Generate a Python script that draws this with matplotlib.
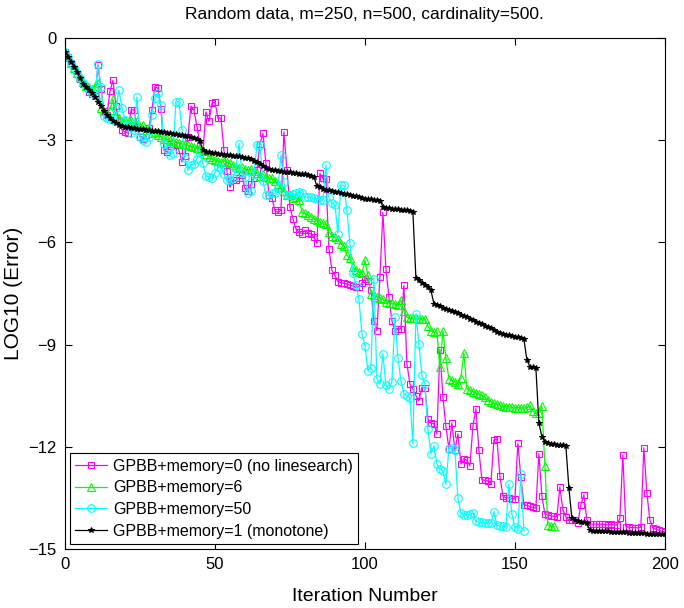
import matplotlib
matplotlib.use('Agg')
from matplotlib import pyplot as plt
import numpy as np

plt.rcParams['font.family'] = ['Liberation Sans', 'DejaVu Sans']

# log10 error per iteration
mem0 = [-0.40, -0.55, -0.72, -0.90, -1.05, -1.20, -1.35, -1.45, -1.58, -1.65,
        -1.70, -0.80, -1.50, -2.15, -2.25, -1.56, -1.24, -2.00, -2.45, -2.70,
        -2.76, -2.78, -2.12, -2.10, -2.60, -2.90, -2.95, -2.85, -2.65, -2.10,
        -1.43, -1.47, -2.07, -3.30, -3.35, -3.10, -3.10, -3.15, -3.30, -3.64,
        -3.45, -2.90, -2.00, -2.12, -2.60, -3.14, -3.35, -2.17, -2.45, -1.92,
        -1.88, -2.35, -2.35, -3.30, -3.90, -4.38, -4.18, -4.18, -4.10, -4.03,
        -4.41, -4.50, -4.30, -4.10, -3.88, -3.10, -2.80, -3.68, -4.60, -4.70,
        -5.06, -5.12, -5.06, -2.76, -3.88, -4.97, -5.30, -5.60, -5.70, -5.74,
        -5.65, -5.72, -5.75, -5.85, -6.03, -3.97, -4.12, -4.15, -6.18, -6.82,
        -6.97, -7.15, -7.18, -7.20, -7.22, -7.26, -7.28, -7.32, -7.30, -7.20,
        -7.06, -7.12, -7.41, -8.30, -8.59, -7.03, -5.12, -6.77, -7.60, -8.30,
        -8.60, -8.55, -8.53, -7.26, -9.56, -10.15, -10.30, -10.50, -10.65, -10.26,
        -10.26, -11.18, -11.30, -11.32, -11.62, -9.15, -10.53, -11.40, -12.06, -11.30,
        -12.10, -11.62, -12.50, -12.35, -12.40, -12.56, -11.40, -10.88, -12.10, -12.97,
        -12.98, -13.00, -13.09, -11.80, -11.77, -12.85, -13.44, -13.50, -13.50, -13.52,
        -13.53, -11.90, -12.90, -13.70, -13.72, -13.75, -13.78, -13.80, -12.20, -13.44,
        -13.97, -14.00, -14.02, -14.04, -14.06, -13.18, -13.85, -14.06, -14.15, -14.15,
        -14.16, -14.24, -13.70, -13.41, -14.15, -14.26, -14.27, -14.26, -14.28, -14.27,
        -14.28, -14.29, -14.28, -14.29, -14.30, -14.10, -12.24, -14.35, -14.36, -14.37,
        -14.37, -14.38, -14.36, -12.03, -13.35, -14.15, -14.38, -14.42, -14.45, -14.48,
        -14.50]

mem6 = [-0.40, -0.55, -0.72, -0.88, -1.02, -1.15, -1.30, -1.40, -1.45, -1.50,
        -1.40, -1.32, -2.06, -2.15, -2.20, -2.10, -1.80, -2.25, -2.35, -2.45,
        -2.40, -2.50, -2.40, -2.55, -2.45, -2.60, -2.55, -2.70, -2.65, -2.80,
        -2.75, -2.85, -2.90, -2.95, -2.97, -3.00, -3.02, -3.05, -3.08, -3.10,
        -3.12, -3.15, -3.18, -3.20, -3.22, -3.25, -3.30, -3.40, -3.48, -3.55,
        -3.58, -3.60, -3.63, -3.60, -3.65, -3.68, -3.72, -3.78, -3.82, -3.80,
        -3.85, -3.88, -3.84, -3.90, -3.95, -4.05, -4.00, -4.08, -4.12, -4.10,
        -4.20, -4.30, -4.38, -4.50, -4.60, -4.62, -4.70, -4.68, -4.75, -5.10,
        -5.15, -5.20, -5.25, -5.30, -5.35, -5.40, -5.42, -5.45, -5.70, -5.80,
        -5.85, -5.90, -6.05, -6.10, -6.38, -6.45, -6.73, -6.80, -6.88, -6.90,
        -6.53, -6.97, -7.50, -7.55, -7.60, -7.62, -7.65, -7.75, -7.77, -7.78,
        -7.80, -7.85, -7.70, -8.00, -8.20, -8.22, -8.22, -8.23, -8.24, -8.24,
        -8.24, -8.45, -8.60, -8.62, -8.60, -9.67, -8.60, -9.40, -10.00, -10.05,
        -10.10, -10.15, -9.97, -9.24, -10.30, -10.32, -10.38, -10.42, -10.44, -10.48,
        -10.55, -10.62, -10.68, -10.72, -10.75, -10.78, -10.80, -10.82, -10.83, -10.84,
        -10.85, -10.85, -10.86, -10.86, -10.84, -10.78, -10.95, -11.02, -11.00, -10.80,
        -12.56, -14.30, -14.33, -14.33]

mem50 = [-0.40, -0.55, -0.72, -0.88, -1.03, -1.18, -1.32, -1.42, -1.50, -1.60,
         -1.68, -0.77, -1.43, -2.30, -2.35, -2.38, -2.40, -2.05, -1.53, -2.05,
         -2.40, -2.55, -2.80, -2.70, -1.73, -2.90, -3.00, -3.05, -2.90, -2.26,
         -1.77, -1.62, -1.97, -3.10, -3.25, -3.44, -3.38, -1.87, -1.87, -2.70,
         -3.53, -3.88, -3.73, -3.70, -3.55, -3.38, -3.68, -4.05, -4.08, -4.12,
         -3.95, -3.80, -3.82, -4.00, -4.18, -4.18, -4.10, -3.82, -3.10, -3.97,
         -4.08, -4.56, -4.50, -4.00, -3.14, -3.14, -4.20, -4.62, -4.62, -4.56,
         -4.56, -4.40, -3.44, -4.24, -4.62, -4.60, -4.58, -4.56, -4.53, -4.55,
         -4.68, -4.68, -4.68, -4.70, -4.72, -4.76, -4.76, -3.73, -4.68, -4.85,
         -4.90, -5.74, -4.32, -4.32, -5.06, -6.03, -6.90, -7.26, -7.65, -8.68,
         -9.03, -9.76, -9.70, -7.06, -10.00, -10.15, -9.27, -10.20, -10.30, -10.10,
         -8.20, -9.38, -10.06, -10.44, -10.50, -10.56, -11.90, -8.10, -8.97, -9.90,
         -10.15, -11.48, -12.20, -11.97, -12.50, -12.65, -12.70, -13.10, -12.06, -12.03,
         -12.10, -13.50, -13.94, -14.00, -14.00, -13.98, -13.94, -14.18, -14.22, -14.22,
         -14.24, -14.24, -14.25, -13.90, -14.30, -14.32, -14.33, -14.35, -13.10, -13.97,
         -14.35, -14.40, -12.80, -14.47]

mem1 = [-0.40, -0.55, -0.70, -0.85, -1.00, -1.18, -1.35, -1.45, -1.53, -1.60,
        -1.72, -1.87, -2.00, -2.13, -2.25, -2.35, -2.43, -2.50, -2.54, -2.57,
        -2.60, -2.62, -2.63, -2.65, -2.66, -2.67, -2.68, -2.70, -2.71, -2.72,
        -2.73, -2.74, -2.75, -2.76, -2.78, -2.80, -2.81, -2.83, -2.84, -2.86,
        -2.88, -2.89, -2.91, -2.93, -2.97, -3.02, -3.30, -3.34, -3.36, -3.37,
        -3.38, -3.40, -3.41, -3.42, -3.43, -3.44, -3.45, -3.46, -3.47, -3.49,
        -3.51, -3.53, -3.56, -3.60, -3.65, -3.70, -3.76, -3.82, -3.85, -3.87,
        -3.88, -3.89, -3.90, -3.92, -3.93, -3.94, -3.95, -3.97, -3.98, -3.99,
        -4.00, -4.02, -4.04, -4.08, -4.35, -4.38, -4.42, -4.45, -4.47, -4.49,
        -4.51, -4.53, -4.55, -4.57, -4.59, -4.61, -4.63, -4.65, -4.68, -4.70,
        -4.72, -4.73, -4.74, -4.75, -4.76, -4.77, -4.95, -4.98, -5.00, -5.01,
        -5.02, -5.03, -5.04, -5.05, -5.06, -5.08, -5.10, -7.05, -7.10, -7.18,
        -7.25, -7.32, -7.40, -7.80, -7.85, -7.88, -7.92, -7.95, -7.98, -8.02,
        -8.05, -8.08, -8.12, -8.16, -8.20, -8.24, -8.28, -8.33, -8.37, -8.40,
        -8.44, -8.48, -8.52, -8.57, -8.63, -8.66, -8.69, -8.71, -8.73, -8.75,
        -8.77, -8.79, -8.81, -8.83, -9.45, -9.65, -9.67, -9.68, -11.30, -11.70,
        -11.85, -11.90, -11.92, -11.93, -11.94, -11.95, -11.96, -11.98, -13.20, -14.10,
        -14.15, -14.18, -14.20, -14.22, -14.25, -14.45, -14.46, -14.46, -14.47, -14.47,
        -14.48, -14.48, -14.49, -14.49, -14.50, -14.50, -14.51, -14.51, -14.52, -14.52,
        -14.53, -14.53, -14.54, -14.54, -14.55, -14.55, -14.55, -14.56, -14.56, -14.57,
        -14.57]

labels = ['GPBB+memory=0 (no linesearch)', 'GPBB+memory=6',
          'GPBB+memory=50', 'GPBB+memory=1 (monotone)']

fig = plt.figure(figsize=(6.84, 6.08), dpi=100)
ax = fig.add_axes([0.095, 0.097, 0.877, 0.8405])

ax.plot(np.arange(len(mem0)), mem0, color='#ff00ff', marker='s', ms=4.5,
        mfc='none', mew=0.8, lw=0.9, label=labels[0])
ax.plot(np.arange(len(mem6)), mem6, color='#00ff00', marker='^', ms=5.5,
        mfc='none', mew=0.8, lw=0.9, label=labels[1])
ax.plot(np.arange(len(mem50)), mem50, color='#00ffff', marker='o', ms=5.5,
        mfc='none', mew=0.8, lw=0.9, label=labels[2])
ax.plot(np.arange(len(mem1)), mem1, color='black', marker='*', ms=4,
        mew=0.7, lw=0.9, label=labels[3])

ax.set_xlim(0, 200)
ax.set_ylim(-15, 0)
ax.set_xticks([0, 50, 100, 150, 200])
ax.set_yticks([0, -3, -6, -9, -12, -15])
ax.tick_params(direction='in', top=True, right=True, length=5, labelsize=12,
               pad=6)
for s in ax.spines.values():
    s.set_linewidth(0.8)

ax.set_title('Random data, m=250, n=500, cardinality=500.', fontsize=12.5, pad=14)
ax.set_xlabel('Iteration Number', fontsize=14, labelpad=11)
ax.set_ylabel('LOG10 (Error)', fontsize=15, labelpad=4)

leg = ax.legend(loc='lower left', fontsize=11.5, handlelength=2.0,
                labelspacing=0.42, borderaxespad=0.3, fancybox=False,
                edgecolor='black', framealpha=1, borderpad=0.35,
                handletextpad=0.35)
leg.get_frame().set_linewidth(0.8)

fig.savefig('out.png', dpi=100)
